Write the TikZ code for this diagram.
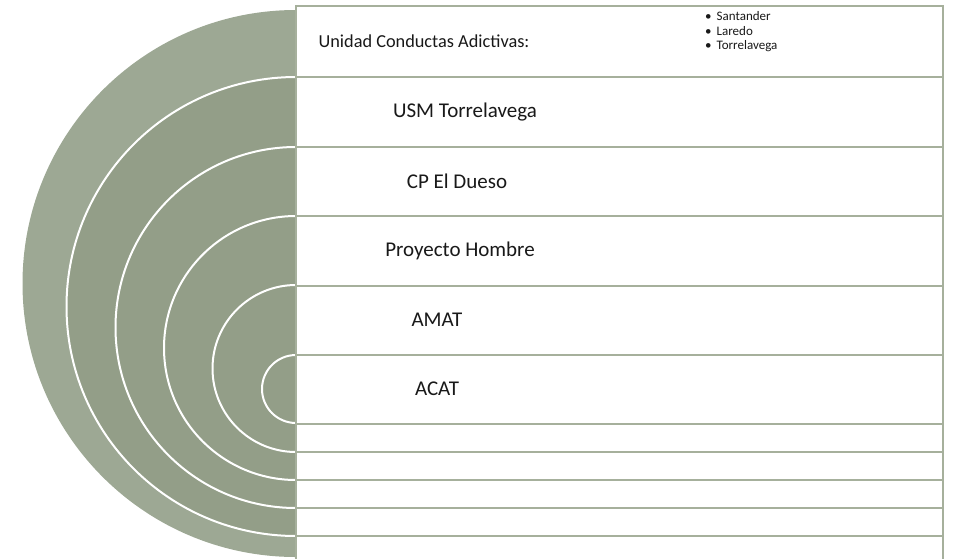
\documentclass[tikz,border=0pt]{standalone}
\usepackage{fontspec}
\setmainfont{Carlito}
\definecolor{outerg}{RGB}{157,168,148}
\definecolor{innerg}{RGB}{147,158,136}
\definecolor{edgeg}{RGB}{166,176,156}
\tikzset{
  rowbox/.style={draw=edgeg, line width=2pt, fill=white, minimum width=647pt, inner sep=0pt, outer sep=0pt},
  arcline/.style={draw=white, line width=2pt},
  lbl/.style={font=\fontsize{21}{25}\selectfont, inner sep=0pt, text=black!90},
  bul/.style={anchor=base west, inner sep=0pt, font=\fontsize{13}{15}\selectfont, text=black!90}
}
\begin{document}
\begin{tikzpicture}[x=1pt,y=-1pt]
\useasboundingbox (0,0) rectangle (956,558);
\begin{scope}
  \clip (0,0) rectangle (296,558);
  \fill[outerg] (296,283.5) circle[radius=273.5];
  \fill[innerg] (296,306.5) circle[radius=229.5];
  \draw[arcline] (296,306.5) circle[radius=229.5];
  \draw[arcline] (296,327.5) circle[radius=180.5];
  \draw[arcline] (296,348) circle[radius=132];
  \draw[arcline] (296,368.5) circle[radius=83.5];
  \draw[arcline] (296,389) circle[radius=34];
\end{scope}
\begin{scope}
  \clip (0,0) rectangle (956,558);
  \node[rowbox, minimum height=71pt]   (r1)  at (619.5,41.5)  {};
  \node[rowbox, minimum height=69.5pt] (r2)  at (619.5,111.75) {};
  \node[rowbox, minimum height=69.5pt] (r3)  at (619.5,181.25) {};
  \node[rowbox, minimum height=69.5pt] (r4)  at (619.5,250.75) {};
  \node[rowbox, minimum height=69.5pt] (r5)  at (619.5,320.25) {};
  \node[rowbox, minimum height=69pt]   (r6)  at (619.5,389.5) {};
  \node[rowbox, minimum height=28pt]   (r7)  at (619.5,438) {};
  \node[rowbox, minimum height=28pt]   (r8)  at (619.5,466) {};
  \node[rowbox, minimum height=28pt]   (r9)  at (619.5,494) {};
  \node[rowbox, minimum height=28pt]   (r10) at (619.5,522) {};
  \node[rowbox, minimum height=28pt]   (r11) at (619.5,550) {};
\end{scope}
\node[lbl, font=\fontsize{18.3}{22}\selectfont] (t1) at (424,41) {Unidad Conductas Adictivas:};
\node[bul] (b1) at (705,20.5) {•\hspace{5pt}Santander};
\node[bul] (b2) at (705,35) {•\hspace{5pt}Laredo};
\node[bul] (b3) at (705,49.5) {•\hspace{5pt}Torrelavega};
\node[lbl] (t2) at (465,112) {USM Torrelavega};
\node[lbl] (t3) at (457,181) {CP El Dueso};
\node[lbl] (t4) at (460,251) {Proyecto Hombre};
\node[lbl] (t5) at (437,320) {AMAT};
\node[lbl] (t6) at (437,389) {ACAT};
\end{tikzpicture}
\end{document}
